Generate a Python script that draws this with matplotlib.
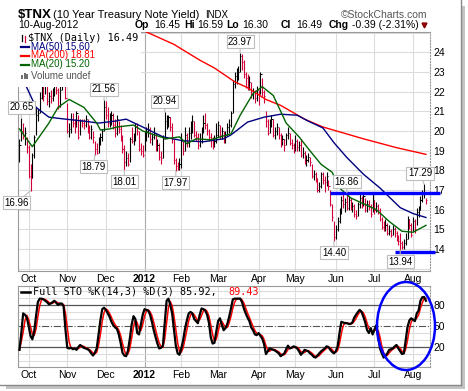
import matplotlib.pyplot as plt
import numpy as np
import pandas as pd
from matplotlib.lines import Line2D
from matplotlib.patches import Ellipse, Rectangle

W, H = 468, 391

# trading calendar shown on the chart (Sep 26 2011 .. Aug 10 2012)
holidays = ["2011-11-24", "2011-12-26", "2012-01-02", "2012-01-16",
            "2012-02-20", "2012-04-06", "2012-05-28", "2012-07-04"]
dates = pd.bdate_range("2011-09-26", "2012-08-10", freq="C", holidays=holidays)

# daily high / low / close of $TNX, one block per month
hi = [19.6, 20.65, 20.4, 20.2, 19.7,
      19.3, 18.3, 18.9, 19.8, 21.2, 21.1, 22.0, 22.6, 22.3, 22.6, 22.4, 22.0, 22.1, 22.2, 22.6, 22.5, 22.2, 22.3, 24.2, 24.0, 23.2,
      21.4, 20.4, 20.9, 20.9, 20.6, 21.0, 20.8, 20.6, 20.6, 20.6, 20.8, 20.6, 20.3, 20.3, 20.0, 19.5, 19.4, 19.7, 19.9, 20.1, 21.56,
      21.5, 21.2, 20.9, 21.0, 20.9, 20.6, 20.8, 20.5, 20.3, 19.8, 19.3, 19.0, 18.9, 19.7, 20.2, 19.9, 20.4, 20.4, 20.0, 19.4, 19.3,
      20.0, 20.2, 20.4, 20.2, 19.9, 20.2, 19.9, 19.6, 19.4, 19.0, 19.8, 20.94, 20.8, 20.8, 20.7, 20.4, 19.6, 18.6, 18.4, 18.6,
      19.9, 19.5, 20.2, 19.9, 20.2, 20.5, 20.8, 20.5, 20.0, 19.9, 19.9, 20.2, 20.8, 20.9, 20.4, 20.1, 19.9, 19.7, 19.8, 20.4,
      20.5, 20.3, 20.2, 20.0, 20.0, 20.4, 20.6, 21.0, 22.6, 23.0, 23.2, 23.3, 23.97, 23.9, 23.6, 23.0, 22.9, 22.8, 22.5, 22.2, 22.1, 22.3,
      22.1, 23.0, 22.7, 22.1, 21.0, 20.6, 20.6, 20.8, 20.6, 20.2, 20.4, 20.2, 19.9, 19.8, 19.6, 19.9, 20.2, 19.9, 19.6, 19.4,
      19.8, 19.6, 19.5, 19.6, 19.2, 19.0, 18.8, 18.9, 18.7, 18.3, 18.0, 17.9, 17.6, 17.4, 17.9, 17.9, 17.7, 17.9, 17.5, 17.0, 16.3, 15.4,
      15.2, 15.6, 16.1, 16.7, 16.8, 16.6, 16.86, 16.7, 16.6, 16.4, 16.3, 16.0, 16.4, 16.8, 16.7, 16.8, 16.6, 16.5, 16.5, 16.3, 16.8,
      16.5, 16.4, 16.3, 16.1, 15.6, 15.4, 15.5, 15.3, 15.2, 15.0, 15.2, 15.1, 14.9, 14.7, 14.8, 14.4, 14.5, 14.8, 15.7, 15.5, 15.3,
      15.6, 15.5, 16.1, 16.2, 16.7, 17.0, 17.29, 16.59]
lo = [18.4, 19.5, 19.6, 19.3, 18.9,
      17.6, 16.96, 17.6, 18.6, 19.8, 20.5, 20.9, 21.6, 21.5, 21.9, 21.3, 21.2, 21.4, 21.5, 21.8, 21.9, 21.1, 21.2, 22.1, 23.0, 21.6,
      19.9, 19.7, 19.9, 20.2, 19.9, 20.2, 19.6, 19.8, 20.2, 20.1, 20.2, 19.9, 19.6, 19.6, 19.4, 18.79, 18.85, 18.9, 19.3, 19.5, 20.0,
      20.6, 20.2, 20.2, 20.3, 20.1, 19.7, 19.8, 19.9, 19.5, 18.9, 18.01, 18.2, 18.2, 18.4, 19.4, 19.3, 19.5, 19.8, 19.0, 18.8, 18.7,
      19.0, 19.5, 19.7, 19.4, 19.3, 19.6, 19.0, 19.0, 18.5, 18.3, 18.6, 19.6, 20.1, 20.2, 20.0, 19.4, 18.3, 17.97, 18.0, 18.0,
      18.1, 18.8, 19.0, 19.2, 19.2, 19.6, 19.9, 19.7, 19.5, 19.1, 19.2, 19.4, 19.9, 20.1, 19.8, 19.5, 19.2, 19.1, 19.2, 19.4,
      19.7, 19.6, 19.6, 19.4, 19.4, 19.8, 19.9, 20.2, 20.9, 22.2, 22.4, 22.6, 23.0, 23.1, 22.7, 22.2, 22.1, 22.1, 21.7, 21.6, 21.4, 21.5,
      21.3, 21.9, 21.8, 21.4, 20.2, 19.8, 19.9, 20.2, 19.7, 19.6, 19.8, 19.6, 19.2, 19.3, 19.0, 19.3, 19.6, 19.3, 19.1, 18.9,
      19.0, 19.0, 19.0, 18.7, 18.6, 18.3, 18.2, 18.4, 18.2, 17.6, 17.5, 17.4, 16.9, 16.9, 17.1, 17.3, 16.9, 17.2, 17.0, 16.2, 15.4, 14.40,
      14.5, 14.9, 15.3, 15.8, 16.1, 15.9, 16.0, 16.0, 16.0, 15.9, 15.6, 15.5, 15.7, 16.1, 16.1, 16.2, 15.9, 15.9, 16.0, 15.6, 15.9,
      15.8, 15.9, 15.8, 15.4, 15.0, 14.9, 14.9, 14.7, 14.7, 14.6, 14.7, 14.6, 14.4, 14.2, 13.94, 14.0, 14.0, 14.2, 14.5, 15.0, 14.6,
      14.9, 14.8, 15.2, 15.6, 16.0, 16.4, 16.6, 16.30]
cl = [19.3, 20.0, 19.8, 19.9, 19.2,
      17.7, 17.6, 18.8, 19.7, 20.8, 20.9, 21.7, 22.2, 21.8, 22.5, 21.5, 21.8, 21.7, 22.0, 22.3, 22.1, 21.2, 22.1, 24.1, 23.2, 21.7,
      20.0, 20.1, 20.6, 20.4, 20.3, 20.9, 19.7, 20.5, 20.4, 20.3, 20.6, 20.1, 19.7, 20.1, 19.7, 19.1, 18.9, 19.6, 19.7, 20.0, 21.2,
      20.8, 20.4, 20.5, 20.8, 20.3, 19.9, 20.6, 20.1, 19.7, 19.1, 18.4, 18.6, 18.3, 19.6, 19.5, 19.6, 20.2, 20.0, 19.1, 19.0, 18.8,
      19.7, 20.0, 20.1, 19.6, 19.7, 19.9, 19.2, 19.3, 18.7, 18.6, 19.6, 20.5, 20.6, 20.7, 20.2, 19.6, 18.5, 18.2, 18.1, 18.3,
      19.5, 19.0, 19.8, 19.4, 19.9, 20.0, 20.5, 19.8, 19.7, 19.3, 19.5, 20.0, 20.4, 20.3, 20.0, 19.7, 19.6, 19.3, 19.5, 19.8,
      20.3, 19.8, 20.0, 19.5, 19.8, 20.2, 20.3, 20.9, 22.4, 22.8, 22.9, 23.0, 23.8, 23.5, 22.9, 22.7, 22.3, 22.5, 21.9, 22.0, 21.7, 22.1,
      21.9, 22.9, 22.0, 21.8, 20.5, 19.9, 20.3, 20.6, 19.8, 20.0, 20.2, 19.8, 19.5, 19.6, 19.3, 19.8, 19.9, 19.4, 19.3, 19.1,
      19.5, 19.2, 19.3, 18.8, 18.9, 18.4, 18.5, 18.7, 18.4, 17.7, 17.8, 17.6, 17.0, 17.2, 17.8, 17.5, 17.4, 17.7, 17.2, 16.3, 15.6, 14.6,
      15.0, 15.4, 15.9, 16.5, 16.3, 16.4, 16.1, 16.5, 16.1, 16.2, 15.8, 15.7, 16.3, 16.6, 16.2, 16.7, 16.0, 16.3, 16.2, 15.8, 16.5,
      16.0, 16.2, 16.0, 15.5, 15.1, 15.0, 15.2, 14.8, 14.9, 14.7, 15.0, 14.8, 14.6, 14.4, 14.3, 14.1, 14.3, 14.5, 15.5, 15.2, 14.7,
      15.4, 15.0, 15.9, 16.0, 16.5, 16.8, 16.88, 16.49]

# moving averages (bar index, value)
ma50_idx = [0, 4, 9, 16, 25, 35, 43, 52, 58, 67, 78, 89, 100, 111, 115, 124, 133, 142, 151,
            157, 165, 171, 178, 187, 196, 207, 214, 221]
ma50 = [23.0, 22.2, 21.2, 20.7, 20.6, 20.5, 20.4, 20.5, 20.6, 20.2, 19.7, 19.5, 19.45, 19.6, 19.8,
        20.45, 20.7, 20.85, 20.8, 20.5, 20.15, 19.4, 18.65, 17.8, 17.1, 16.1, 15.8, 15.6]
ma20_idx = [0, 7, 16, 21, 27, 35, 42, 44, 49, 53, 62, 67, 75, 80, 87, 91, 96, 104, 111, 115, 120,
            127, 132, 138, 145, 152, 157, 164, 170, 174, 180, 187, 194, 201, 208, 214, 221]
ma20 = [20.1, 19.2, 20.4, 21.2, 21.6, 21.2, 20.4, 20.05, 20.1, 20.2, 20.3, 20.0, 19.75, 19.6, 19.7,
        19.35, 19.6, 19.55, 19.75, 19.85, 20.8, 21.9, 22.25, 21.8, 20.4, 19.7, 19.1, 18.3, 17.9, 17.1,
        16.6, 16.3, 16.0, 15.4, 14.9, 14.85, 15.2]
ma200_idx = [60, 65, 84, 98, 106, 117, 124, 134, 142, 155, 165, 187, 205, 221]
ma200 = [25.5, 25.2, 24.4, 23.6, 23.2, 22.5, 22.2, 21.6, 21.3, 20.6, 20.2, 19.6, 19.15, 18.81]

# Full STO %K(14,3), daily
sto_k = [16, 40, 68, 66, 62,
         50, 36, 31, 42, 64, 84, 89, 89, 88, 86, 84, 81, 82, 84, 86, 83, 80, 82, 82, 78, 45,
         19, 18, 19, 17, 18, 16, 20, 23, 21, 19, 18, 17, 15, 11, 8, 12, 18, 38, 58, 74, 76,
         73, 68, 63, 56, 51, 48, 46, 38, 26, 12, 8, 7, 15, 32, 52, 64, 60, 40, 38, 52, 66,
         74, 73, 72, 66, 56, 44, 34, 25, 18, 19, 22, 55, 86, 89, 80, 68, 45, 22, 11, 9,
         18, 30, 46, 58, 68, 70, 68, 60, 57, 54, 66, 75, 74, 72, 66, 55, 34, 25, 26, 42,
         57, 61, 52, 44, 47, 53, 63, 75, 88, 89, 89, 89, 89, 84, 75, 68, 62, 57, 48, 44, 38, 37,
         40, 36, 32, 24, 10, 14, 18, 17, 16, 15, 13, 11, 7, 9, 11, 17, 22, 18, 19, 21,
         20, 18, 14, 9, 12, 16, 15, 14, 11, 9, 6, 5, 8, 11, 14, 16, 18, 21, 20, 16, 13, 11,
         14, 21, 40, 56, 55, 54, 54, 53, 53, 55, 62, 66, 70, 73, 70, 63, 55, 44, 40, 47, 38,
         45, 51, 35, 18, 11, 5, 8, 11, 16, 17, 18, 21, 23, 18, 14, 10, 11, 30, 49, 58, 61,
         59, 57, 68, 72, 86, 91, 91.37, 85.92]

month_names = ["Oct", "Nov", "Dec", "2012", "Feb", "Mar", "Apr", "May", "Jun", "Jul", "Aug"]

# value callouts: (bar index, which end of the bar, x shift in points)
callouts = [(1, "hi", 0), (6, "lo", -10), (46, "hi", 0), (41, "lo", -1), (57, "lo", 0),
            (79, "hi", 0), (85, "lo", 0), (120, "hi", 0), (178, "hi", 0), (171, "lo", 0),
            (220, "hi", -3), (207, "lo", 0)]
resistance = (169, 16.86)
support = (204, 13.94)

n = min(len(dates), len(hi), len(lo), len(cl), len(sto_k))
x = np.arange(n)
hi, lo, cl = np.array(hi[:n]), np.array(lo[:n]), np.array(cl[:n])
prev = np.r_[cl[0] - 1, cl[:-1]]
bar_col = np.where(cl < prev, "#d4003a", "#000000")
k = pd.Series(sto_k[:n], dtype=float)
d = k.rolling(3, min_periods=1).mean()

m = pd.Series(dates[:n].month)
month_pos = list(np.flatnonzero(m.diff().fillna(0) != 0))

RED = "#d4003a"
GRID = "#dcdcdc"
FONT = "Liberation Sans"
plt.rcParams["font.family"] = [FONT, "DejaVu Sans"]

fig = plt.figure(figsize=(W / 100, H / 100), dpi=100)


def fx(px):
    return px / W


def fy(py):
    return 1 - py / H


def ftext(px, py, s, **kw):
    fig.text(fx(px), fy(py), s, va="baseline", **kw)


ax_p = fig.add_axes([fx(18), fy(271), fx(430) - fx(18), fy(32) - fy(271)])
ax_s = fig.add_axes([fx(18), fy(367), fx(430) - fx(18), fy(286) - fy(367)])

for ax in (ax_p, ax_s):
    ax.set_xlim(-0.8, 223.2)
    for i, p in enumerate(month_pos):
        ax.axvline(p, color="#a9a9a9" if month_names[i] == "2012" else GRID, lw=0.8, zorder=0)
    ax.set_xticks(month_pos)
    ax.set_xticklabels(month_names, fontsize=7.5)
    for lab in ax.get_xticklabels():
        if lab.get_text() == "2012":
            lab.set_fontweight("bold")
    ax.yaxis.tick_right()
    ax.tick_params(axis="both", length=0, pad=2.5, labelsize=7.5, colors="#000000")
    for s in ("left", "top", "bottom"):
        ax.spines[s].set_color("#9a9a9a")
        ax.spines[s].set_linewidth(0.8)
    ax.spines["right"].set_color("#9a9a9a")
    ax.spines["right"].set_linestyle(":")

# price panel
ax_p.set_ylim(12.88, 25.03)
ax_p.set_yticks(range(14, 25))
for v in range(13, 26):
    ax_p.axhline(v, color=GRID, lw=0.8, zorder=0)
ax_p.vlines(x, lo, hi, colors=bar_col, lw=0.8, zorder=2)
ax_p.hlines(cl, x, x + 0.6, colors=bar_col, lw=0.7, zorder=2)
ax_p.plot(ma200_idx, ma200, color="#ff0000", lw=1.0, zorder=3)
ax_p.plot(ma50_idx, ma50, color="#000080", lw=1.0, zorder=3)
ax_p.plot(ma20_idx, ma20, color="#006400", lw=1.0, zorder=3)

ax_p.plot([resistance[0], 228.5], [resistance[1]] * 2, color="#0000ff", lw=2.4,
          clip_on=False, zorder=6, solid_capstyle="butt")
ax_p.plot([support[0], 226], [support[1] - 0.1] * 2, color="#0000ff", lw=2.4,
          clip_on=False, zorder=6, solid_capstyle="butt")

for i, side, dx in callouts:
    v = hi[i] if side == "hi" else lo[i]
    dy = 8 if side == "hi" else -8.5
    ax_p.annotate(f"{v:.2f}", xy=(i, v), xytext=(dx, dy), textcoords="offset points",
                  ha="center", va="center", fontsize=7, zorder=8, annotation_clip=False,
                  bbox=dict(boxstyle="square,pad=0.15", fc="white", ec="#bdbdbd", lw=0.8),
                  arrowprops=dict(arrowstyle="-", color="#bdbdbd", lw=0.8,
                                  shrinkA=0, shrinkB=0))

# legend block in the price panel
ax_p.add_patch(Rectangle((fx(18), fy(87)), fx(141) - fx(18), fy(32) - fy(87),
                         transform=fig.transFigure, fc="white", ec="none", zorder=5))
fig.add_artist(Line2D([fx(22), fx(22)], [fy(35), fy(41)], color="black", lw=0.9))
fig.add_artist(Line2D([fx(25), fx(25)], [fy(36), fy(42)], color=RED, lw=0.9))
ftext(28, 41, "$TNX (Daily) 16.49", fontsize=7.3, family="DejaVu Sans Mono")
leg_rows = [("MA(50) 15.60", "#000080"), ("MA(200) 18.81", "#ff0000"), ("MA(20) 15.20", "#006400")]
for r, (s, c) in enumerate(leg_rows):
    yy = 49.5 + r * 8.8
    fig.add_artist(Line2D([fx(21), fx(29)], [fy(yy - 2.5), fy(yy - 2.5)], color=c, lw=1.6))
    ftext(31, yy, s, fontsize=7, color=c)
fig.patches.append(Rectangle((fx(20), fy(81)), fx(94) - fx(20), fy(74) - fy(81),
                             transform=fig.transFigure, fc="white", ec="none", zorder=6))
for j, hh in enumerate([4, 6, 5]):
    fig.patches.append(Rectangle((fx(21 + j * 2.6), fy(79)), fx(2) - fx(0), fy(79 - hh) - fy(79),
                                 transform=fig.transFigure, fc="#707070", ec="none", zorder=7))
ftext(31, 79, "Volume undef", fontsize=7, color="#555555", zorder=7)

# stochastics panel
ax_s.set_ylim(-8.4, 107)
ax_s.set_yticks([20, 50, 80])
for v in range(0, 101, 10):
    if v not in (20, 50, 80):
        ax_s.axhline(v, color=GRID, lw=0.8, zorder=0)
ax_s.axhline(80, color="#555555", lw=0.9, zorder=1)
ax_s.axhline(20, color="#555555", lw=0.9, zorder=1)
ax_s.axhline(50, color="#555555", lw=0.8, ls="-.", zorder=1)
ax_s.plot(x, d, color="#ff0000", lw=1.1, zorder=3)
ax_s.plot(x, k, color="#000000", lw=1.6, zorder=4)
fig.add_artist(Line2D([fx(21), fx(30)], [fy(292), fy(292)], color="black", lw=1.8))
ftext(33, 295, "Full STO %K(14,3) %D(3) 85.92,", fontsize=7.3, family="DejaVu Sans Mono")
ftext(228, 295, "89.43", fontsize=7.3, family="DejaVu Sans Mono", color="#ff0000")

fig.add_artist(Ellipse((fx(406), fy(326)), fx(58), fy(0) - fy(88), transform=fig.transFigure,
                       fill=False, ec="#0000ff", lw=1.8, zorder=10))

# header
ftext(18, 18, "$TNX", fontsize=9.5, fontweight="bold")
ftext(53, 18, "(10 Year Treasury Note Yield)", fontsize=8)
ftext(205, 18, "INDX", fontsize=7)
ftext(341, 18, "\u00a9StockCharts.com", fontsize=7.5, color="#555555")
ftext(18, 28, "10-Aug-2012", fontsize=7.5)
quote = [(135, "Op", True), (154, "16.45", False), (184, "Hi", True), (197, "16.59", False),
         (226, "Lo", True), (242, "16.30", False), (281, "Cl", True), (296, "16.49", False),
         (329, "Chg", True), (352, "-0.39 (-2.31%)", False)]
for px, s, bold in quote:
    ftext(px, 28, s, fontsize=7.5, fontweight="bold" if bold else "normal")
fig.add_artist(Line2D([fx(424)], [fy(25)], marker="v", color="#8b0000", ms=3.5, lw=0))

# drop shadow around the picture
fig.patches.append(Rectangle((fx(461), fy(389)), fx(4), fy(6) - fy(389),
                             transform=fig.transFigure, fc="#c4c4c4", ec="none"))
fig.patches.append(Rectangle((fx(6), fy(389)), fx(459), fy(385) - fy(389),
                             transform=fig.transFigure, fc="#c4c4c4", ec="none"))
fig.add_artist(Line2D([fx(461), fx(461)], [fy(0), fy(385)], color="#8a8a8a", lw=1))
fig.add_artist(Line2D([fx(0), fx(461)], [fy(385), fy(385)], color="#8a8a8a", lw=1))

fig.savefig("out.png", dpi=100, facecolor="white")
